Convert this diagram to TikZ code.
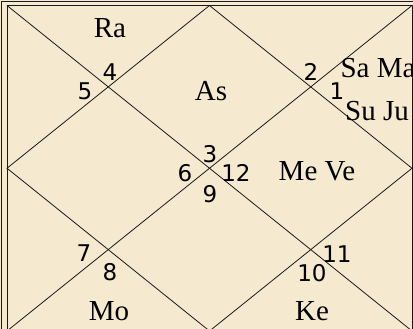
\documentclass[tikz,border=0pt]{standalone}
\usepackage{fontspec}
\setmainfont{Liberation Serif}
\newfontfamily\numfont{DejaVu Sans}
\usetikzlibrary{positioning}
\definecolor{colChartBg}  {HTML}{F5EAD0}
\definecolor{colChartLine}{HTML}{1A1A1A}
\tikzset{
  frame/.style   ={draw=colChartLine, line width=0.9pt},
  divline/.style ={draw=colChartLine, line width=0.8pt},
  planet/.style  ={inner sep=0pt, font=\fontsize{29}{32}\selectfont, text=black},
  hnum/.style    ={inner sep=0pt, font=\numfont\fontsize{23}{25}\selectfont, text=black}
}

\begin{document}
\begin{tikzpicture}[x=1pt, y=-1pt]
    \useasboundingbox (0,0) rectangle (413,329);
    \fill[colChartBg] (0,0) rectangle (413,329);
    \begin{scope}
    \clip (0,0) rectangle (413,329);
    % double frame
    \draw[frame] (1.5,1.5) rectangle (420,340);
    \coordinate (tl) at (7,5.5);
    \coordinate (tr) at (412,5.5);
    \coordinate (bl) at (7,331);
    \coordinate (br) at (412,331);
    \draw[frame] (tl) rectangle (br);
    % midpoints of the sides
    \coordinate (mt) at (209.5,5.5);
    \coordinate (mr) at (412,168.25);
    \coordinate (mb) at (209.5,331);
    \coordinate (ml) at (7,168.25);

    \draw[divline] (tl) -- (br);
    \draw[divline] (tr) -- (bl);
    \draw[divline] (mt) -- (mr) -- (mb) -- (ml) -- cycle;
    \end{scope}

    % house numbers
    \node[hnum] (h1)  at (337,91)  {1};
    \node[hnum] (h2)  at (311,72)  {2};
    \node[hnum] (h3)  at (210,154) {3};
    \node[hnum] (h4)  at (110,72)  {4};
    \node[hnum] (h5)  at (85,91)   {5};
    \node[hnum] (h6)  at (185,173) {6};
    \node[hnum] (h7)  at (84,253)  {7};
    \node[hnum] (h8)  at (110,272) {8};
    \node[hnum] (h9)  at (210,194) {9};
    \node[hnum] (h10) at (312,273) {10};
    \node[hnum] (h11) at (337,254) {11};
    \node[hnum] (h12) at (236,173) {12};

    % planets
    \node[planet] (ra)   at (110,28)  {Ra};
    \node[planet] (as)   at (211,91)  {As};
    \node[planet] (sama) at (378,68)  {Sa Ma};
    \node[planet] (suju) at (377,111) {Su Ju};
    \node[planet] (meve) at (317,171) {Me Ve};
    \node[planet] (mo)   at (109,311) {Mo};
    \node[planet] (ke)   at (312,311) {Ke};
\end{tikzpicture}
\end{document}
